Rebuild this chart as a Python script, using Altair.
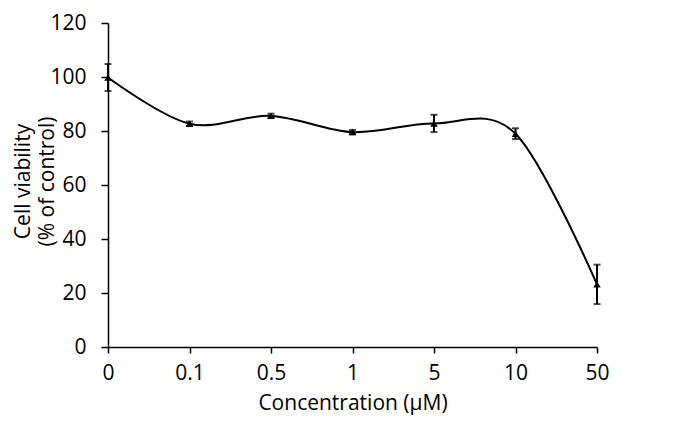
import altair as alt
import pandas as pd

concentrations = ["0", "0.1", "0.5", "1", "5", "10", "50"]
viability = [99.8, 82.7, 85.6, 79.6, 82.8, 79.0, 23.2]
errors = [5.0, 0.8, 0.8, 0.8, 3.2, 2.0, 7.3]

df = pd.DataFrame({"conc": concentrations, "v": viability, "err": errors})

font = "Open Sans"
ytitle = ["Cell viability", "(% of control)"]
x = alt.X("conc:N", sort=concentrations,
          scale=alt.Scale(type="point", padding=0),
          axis=alt.Axis(title="Concentration (µM)", labelAngle=0, tickSize=6,
                        labelPadding=9, titlePadding=9))
yaxis = alt.Axis(title=ytitle, values=list(range(0, 121, 20)),
                 tickSize=7, labelPadding=15, grid=False,
                 titleX=-75, titleY=158, titleBaseline="bottom", titleAlign="center", titleAngle=270)
y = alt.Y("v:Q", scale=alt.Scale(domain=[0, 120]), axis=yaxis)

base = alt.Chart(df)

line = base.mark_line(color="black", strokeWidth=2, interpolate="cardinal", tension=0).encode(x=x, y=y)
pts = base.mark_point(shape="triangle-up", filled=True, color="black", size=55, opacity=1).encode(x=x, y=y)
bars = base.transform_calculate(lo="datum.v - datum.err", hi="datum.v + datum.err").mark_errorbar(
    ticks=alt.TickConfig(size=7, thickness=2, color="black"), rule=alt.LineConfig(strokeWidth=2, color="black"), color="black"
).encode(x=x, y=alt.Y("lo:Q", scale=alt.Scale(domain=[0, 120]), axis=yaxis), y2="hi:Q")

chart = alt.layer(line, bars, pts).properties(
    width=489, height=324,
    autosize=alt.AutoSizeParams(type="none"),
    padding={"left": 100, "top": 15, "right": 70, "bottom": 69},
).configure_axis(
    domainColor="black", tickColor="black", labelColor="black", titleColor="black",
    labelFont=font, titleFont=font, domainWidth=1.5, tickWidth=1.5,
    labelFontSize=21, titleFontSize=21, titleFontWeight="normal", titleLineHeight=24,
).configure_view(stroke=None)

chart.save("out.html", embed_options={"renderer": "svg", "actions": False})
